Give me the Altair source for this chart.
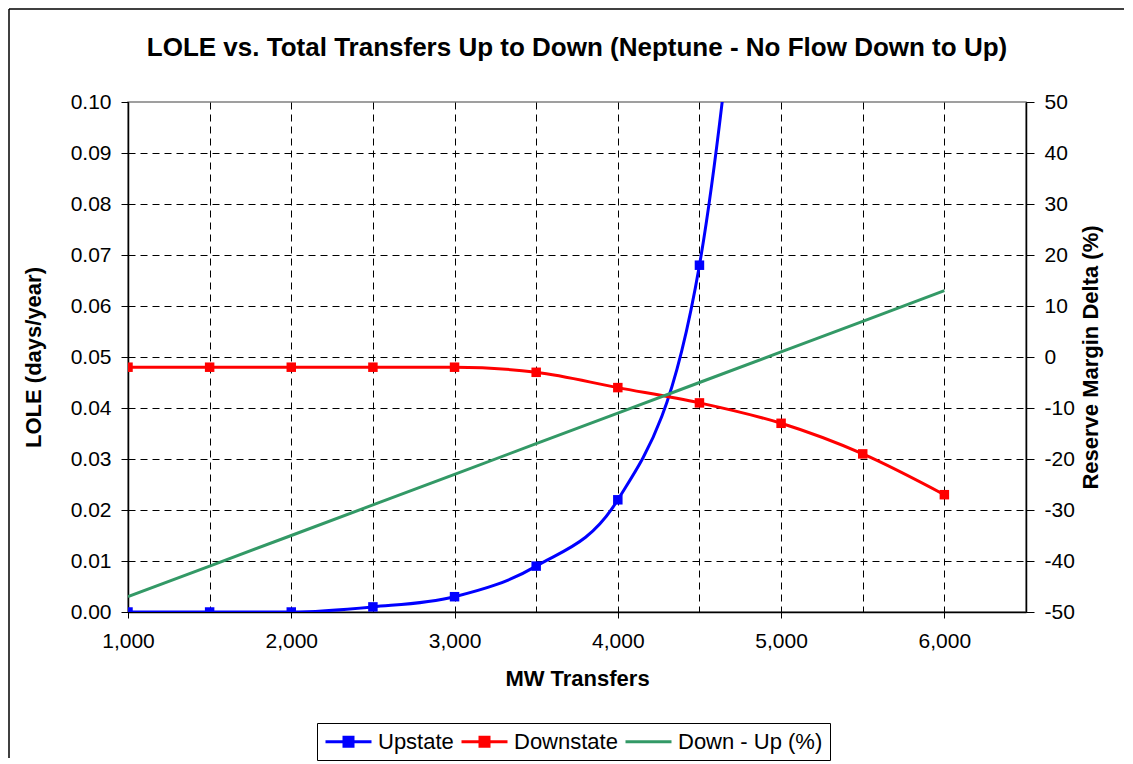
import altair as alt
import pandas as pd

# ---- data ----
mw = [1000, 1500, 2000, 2500, 3000, 3500, 4000, 4500, 5000, 5500, 6000]
upstate = [0.000, 0.000, 0.000, 0.001, 0.003, 0.009, 0.022, 0.068, 0.220]
downstate = [0.048, 0.048, 0.048, 0.048, 0.048, 0.047, 0.044, 0.041, 0.037, 0.031, 0.023]
down_up = [-47, -41, -35, -29, -23, -17, -11, -5, 1, 7, 13]

series_names = ["Upstate", "Downstate", "Down - Up (%)"]
series_colors = ["#0000FF", "#FF0000", "#339966"]

x_ticks = list(range(1000, 6501, 500))
y_left_ticks = [round(i * 0.01, 2) for i in range(11)]
y_right_ticks = list(range(-50, 51, 10))

FONT = "Liberation Sans"

rows = []
for m, v in zip(mw, upstate):
    rows.append({"mw": m, "value": v, "series": "Upstate"})
for m, v in zip(mw, downstate):
    rows.append({"mw": m, "value": v, "series": "Downstate"})
left_df = pd.DataFrame(rows)
right_df = pd.DataFrame({"mw": mw, "value": down_up, "series": "Down - Up (%)"})

sq = "M-2.3,0L2.3,0M-0.45,-0.45L0.45,-0.45L0.45,0.45L-0.45,0.45Z"
ln = "M-2.3,0L2.3,0"

color_scale = alt.Scale(domain=series_names, range=series_colors)
legend = alt.Legend(
    orient="none", legendX=189, legendY=621, direction="horizontal", title=None,
    labelFont=FONT, labelFontSize=22, labelColor="black",
    symbolSize=400, symbolStrokeWidth=3, symbolOffset=13,
    symbolType=alt.ExprRef(f"datum.value === 'Down - Up (%)' ? '{ln}' : '{sq}'"),
    symbolFillColor=alt.ExprRef("datum.value === 'Upstate' ? '#0000FF' : datum.value === 'Downstate' ? '#FF0000' : 'transparent'"),
    symbolStrokeColor=alt.ExprRef("datum.value === 'Upstate' ? '#0000FF' : datum.value === 'Downstate' ? '#FF0000' : '#339966'"),
    symbolOpacity=1,
    labelOffset=18, columnPadding=1, padding=7,
    strokeColor="black", fillColor="white",
)

x_enc = alt.X(
    "mw:Q",
    scale=alt.Scale(domain=[1000, 6500], nice=False),
    axis=alt.Axis(
        values=x_ticks, title="MW Transfers",
        labelExpr="datum.value % 1000 === 0 ? format(datum.value, ',.0f') : ''",
        tickOpacity={"condition": {"test": "datum.value % 1000 !== 0", "value": 0}, "value": 1},
        labelFlush=False, labelOverlap=False, tickSize=6, labelPadding=12, titlePadding=17,
    ),
)

y_left = alt.Y(
    "value:Q",
    scale=alt.Scale(domain=[0, 0.1], nice=False),
    axis=alt.Axis(
        values=y_left_ticks, title="LOLE (days/year)",
        labelExpr="format(datum.value, '.2f')",
        gridOpacity={"condition": {"test": "datum.value > 0.099", "value": 0}, "value": 1},
        tickSize=7, labelPadding=10, titlePadding=25,
    ),
)

base_left = alt.Chart(left_df).encode(
    x=x_enc, y=y_left,
    color=alt.Color("series:N", scale=color_scale, legend=legend),
)
lines_left = base_left.mark_line(strokeWidth=3, interpolate="monotone", clip=True)
points_left = base_left.mark_point(shape="square", filled=True, size=90, opacity=1, clip=True)

frame = alt.Chart(alt.Data(values=[{}])).mark_rule(color="black", strokeWidth=1.5).encode(
    x=alt.value(-119), x2=alt.value(996), y=alt.value(-93)
)
frame_left = alt.Chart(alt.Data(values=[{}])).mark_rule(color="black", strokeWidth=1.5).encode(
    x=alt.value(-119), y=alt.value(-93), y2=alt.value(656)
)

left = alt.layer(lines_left, points_left, frame, frame_left)

right = alt.Chart(right_df).mark_line(strokeWidth=3, clip=True).encode(
    x=x_enc,
    y=alt.Y(
        "value:Q",
        scale=alt.Scale(domain=[-50, 50], nice=False),
        axis=alt.Axis(
            orient="right", values=y_right_ticks, grid=False,
            labelExpr="datum.value < 0 ? '-' + abs(datum.value) : '' + datum.value",
            title="Reserve Margin Delta (%)", titleAngle=270, titleBaseline="top",
            tickSize=8, labelPadding=10, titlePadding=6,
        ),
    ),
    color=alt.Color("series:N", scale=color_scale),
)

chart = alt.layer(left, right).resolve_scale(y="independent").properties(
    width=898, height=510, padding=0,
    title=alt.TitleParams(
        "LOLE vs. Total Transfers Up to Down (Neptune - No Flow Down to Up)",
        font=FONT, fontSize=26, fontWeight="bold", color="black",
        anchor="middle", frame="group", offset=-53,
    ),
).configure_view(
    stroke="#808080", strokeWidth=1.5
).configure_axis(
    domainColor="black", domainWidth=1.5, tickColor="black", tickWidth=1,
    labelColor="black", titleColor="black",
    labelFont=FONT, titleFont=FONT, labelFontSize=21, titleFontSize=22,
    titleFontWeight="bold",
    gridColor="black", gridDash=[7, 5], gridWidth=1,
)

chart.save("out.html", embed_options={"renderer": "svg", "actions": False})
